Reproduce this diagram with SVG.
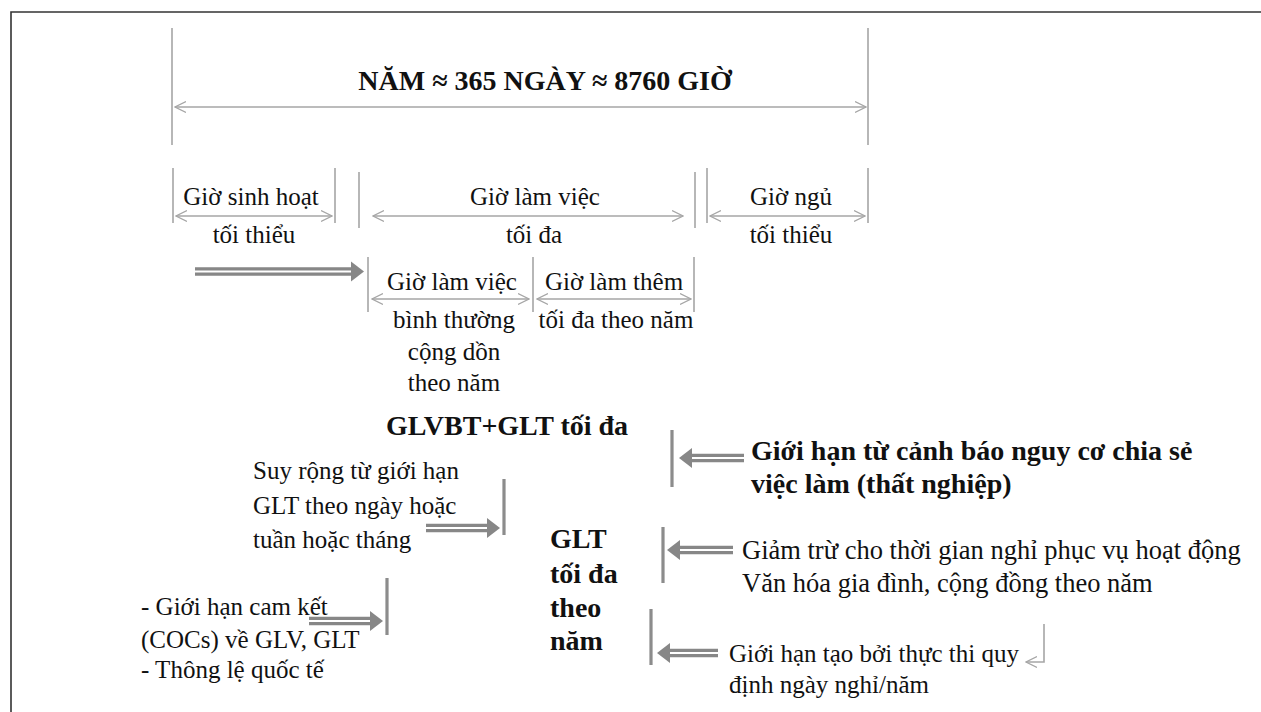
<svg xmlns="http://www.w3.org/2000/svg" width="1261" height="712" viewBox="0 0 1261 712">
<style>
text{font-family:'Liberation Serif','DejaVu Serif','Times New Roman',Times,serif;fill:#111}
.t{font-size:25px}
.b{font-size:28px;font-weight:bold}
.m{text-anchor:middle}
.thin{stroke:#a6a6a6;stroke-width:1.6;fill:none}
.dim{stroke:#a6a6a6;stroke-width:1.3;fill:none;marker-start:url(#ch);marker-end:url(#ch)}
.bar{stroke:#8c8c8c;stroke-width:3.2;fill:none}
.sh{stroke:#878787;stroke-width:3.2;fill:none}
.hd{fill:#878787}
</style>
<defs>
<marker id="ch" viewBox="0 0 12 12" refX="11" refY="6" markerWidth="12" markerHeight="12" markerUnits="userSpaceOnUse" orient="auto-start-reverse">
<path d="M0,0.5 L11,6 L0,11.5" fill="none" stroke="#a6a6a6" stroke-width="1.2"/>
</marker>
</defs>
<rect width="1261" height="712" fill="#fff"/>
<path d="M11,712 V12 H1261" fill="none" stroke="#333" stroke-width="1.6"/>

<g id="connectors">
<path class="thin" d="M172,28 V145 M868,28 V145"/>
<path class="dim" d="M175,107 H866"/>
<path class="thin" d="M173,168 V223 M335,168 V223 M359,172 V228 M695,172 V228 M707,168 V223 M868,168 V223"/>
<path class="dim" d="M176,216 H332"/>
<path class="dim" d="M373,216 H683"/>
<path class="dim" d="M710,216 H865"/>
<path class="thin" d="M368,257 V312 M533,257 V312 M694,257 V312"/>
<path class="dim" d="M372,299 H529"/>
<path class="dim" d="M537,299 H691"/>
<path class="bar" d="M504,479 V535 M387,578 V635 M672,430 V487 M663,527 V583 M651,609 V665"/>
<g>
<path class="sh" d="M195,268.8 H353 M195,274.2 H353"/>
<polygon class="hd" points="364,271.5 351,261.5 351,281.5"/>
</g>
<g>
<path class="sh" d="M426,525.3 H488 M426,530.7 H488"/>
<polygon class="hd" points="500,528 487,518 487,538"/>
</g>
<g>
<path class="sh" d="M309,618.3 H371 M309,623.7 H371"/>
<polygon class="hd" points="383,621 370,611 370,631"/>
</g>
<g>
<path class="sh" d="M744,455.3 H691 M744,460.7 H691"/>
<polygon class="hd" points="679,458 692,448 692,468"/>
</g>
<g>
<path class="sh" d="M733,547.3 H679 M733,552.7 H679"/>
<polygon class="hd" points="667,550 680,540 680,560"/>
</g>
<g>
<path class="sh" d="M718,650.3 H669 M718,655.7 H669"/>
<polygon class="hd" points="657,653 670,643 670,663"/>
</g>
<path class="thin" d="M1044,624 V662 H1026" marker-end="url(#ch)"/>
</g>

<g id="title"><text class="b m" x="545" y="90">NĂM ≈ 365 NGÀY ≈ 8760 GIỜ</text></g>
<g id="sinhhoat"><text class="t m" x="251" y="205">Giờ sinh hoạt</text><text class="t m" x="254" y="243">tối thiểu</text></g>
<g id="lamviec"><text class="t m" x="535" y="205">Giờ làm việc</text><text class="t m" x="534" y="243">tối đa</text></g>
<g id="ngu"><text class="t m" x="791" y="205">Giờ ngủ</text><text class="t m" x="791" y="243">tối thiểu</text></g>
<g id="binhthuong"><text class="t m" x="452" y="290">Giờ làm việc</text><text class="t m" x="454" y="328">bình thường</text><text class="t m" x="454" y="360">cộng dồn</text><text class="t m" x="454" y="391">theo năm</text></g>
<g id="lamthem"><text class="t m" x="614" y="290">Giờ làm thêm</text><text class="t m" x="616" y="328">tối đa theo năm</text></g>
<g id="glvbt"><text class="b m" x="507" y="435">GLVBT+GLT tối đa</text></g>
<g id="suyrong"><text class="t" x="253" y="479">Suy rộng từ giới hạn</text><text class="t" x="253" y="514">GLT theo ngày hoặc</text><text class="t" x="253" y="548">tuần hoặc tháng</text></g>
<g id="glt"><text class="b" x="550" y="548">GLT</text><text class="b" x="550" y="583">tối đa</text><text class="b" x="550" y="617">theo</text><text class="b" x="550" y="650">năm</text></g>
<g id="canhbao"><text class="b" x="751" y="460">Giới hạn từ cảnh báo nguy cơ chia sẻ</text><text class="b" x="751" y="493">việc làm (thất nghiệp)</text></g>
<g id="giamtru"><text class="t" x="742" y="559" style="font-size:26.5px">Giảm trừ cho thời gian nghỉ phục vụ hoạt động</text><text class="t" x="742" y="592" style="font-size:26.5px">Văn hóa gia đình, cộng đồng theo năm</text></g>
<g id="coc"><text class="t" x="141" y="615">- Giới hạn cam kết</text><text class="t" x="141" y="648">(COCs) về GLV, GLT</text><text class="t" x="141" y="678">- Thông lệ quốc tế</text></g>
<g id="ngaynghi"><text class="t" x="729" y="662">Giới hạn tạo bởi thực thi quy</text><text class="t" x="729" y="693">định ngày nghỉ/năm</text></g>
</svg>
